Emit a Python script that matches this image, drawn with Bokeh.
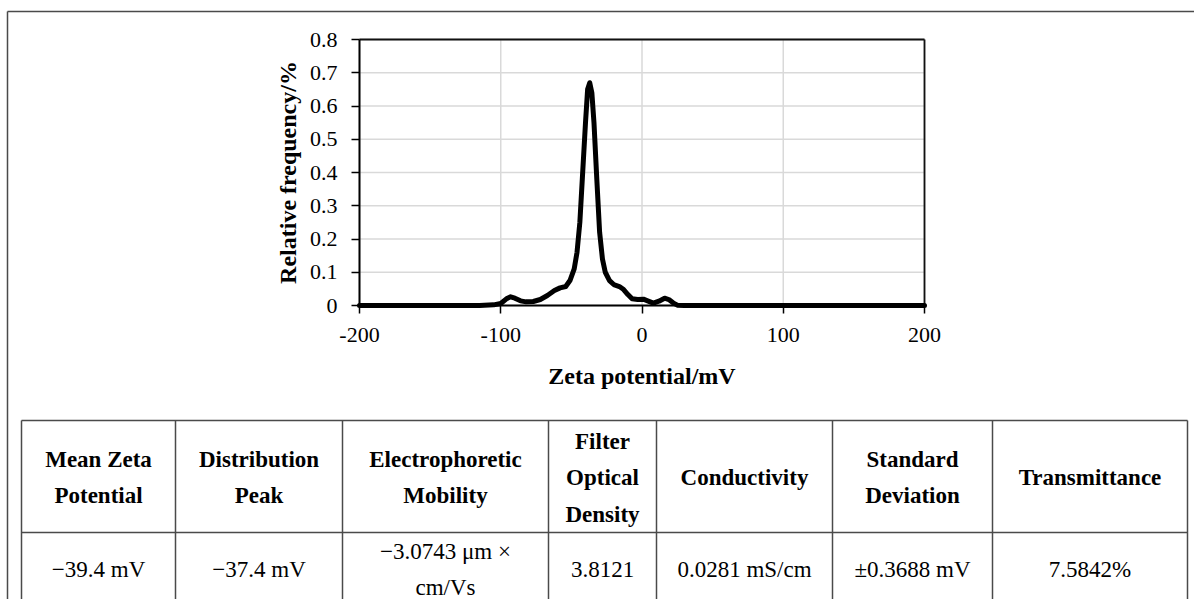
from bokeh.plotting import figure
from bokeh.models import Range1d, FixedTicker, LinearAxis, Label, NumeralTickFormatter
from bokeh.embed import file_html
from bokeh.resources import INLINE

# ---------------- data ----------------
zeta = [-200, -115, -105, -100, -96, -93, -90, -86, -82, -77, -72, -67, -62, -58, -54,
        -51, -48, -46, -44, -42, -40, -38.5, -37, -35.5, -34, -32, -30, -28, -26, -23,
        -20, -16, -13, -10, -7, -3, 1, 4, 8, 12, 16, 19, 22, 25, 30, 200]
freq = [0, 0, 0.002, 0.006, 0.02, 0.026, 0.022, 0.014, 0.011, 0.012, 0.018, 0.03, 0.045, 0.053, 0.057,
        0.075, 0.11, 0.16, 0.25, 0.4, 0.55, 0.65, 0.67, 0.64, 0.55, 0.38, 0.22, 0.14, 0.1, 0.075,
        0.063, 0.057, 0.048, 0.033, 0.02, 0.018, 0.019, 0.014, 0.007, 0.013, 0.022, 0.018, 0.008, 0.001, 0, 0]

x_ticks = [-200, -100, 0, 100, 200]
x_tick_labels = ["-200", "-100", "0", "100", "200"]
y_ticks = [0, 0.1, 0.2, 0.3, 0.4, 0.5, 0.6, 0.7, 0.8]
y_tick_labels = ["0", "0.1", "0.2", "0.3", "0.4", "0.5", "0.6", "0.7", "0.8"]
x_title = "Zeta potential/mV"
y_title = "Relative frequency/%"

table_headers = [["Mean Zeta", "Potential"],
                 ["Distribution", "Peak"],
                 ["Electrophoretic", "Mobility"],
                 ["Filter", "Optical", "Density"],
                 ["Conductivity"],
                 ["Standard", "Deviation"],
                 ["Transmittance"]]
table_values = [["\u221239.4 mV"],
                ["\u221237.4 mV"],
                ["\u22123.0743 \u03bcm \u00d7", "cm/Vs"],
                ["3.8121"],
                ["0.0281 mS/cm"],
                ["\u00b10.3688 mV"],
                ["7.5842%"]]

# ---------------- layout / style ----------------
W, H = 1194, 599
FL, FR, FT, FB = 359, 924, 39, 305          # chart area in page pixels
XR = (x_ticks[0], x_ticks[-1])
YR = (y_ticks[0], y_ticks[-1])
FONT = "Liberation Serif"
col_edges = [21, 175, 342, 548, 656, 832, 992, 1187]
tbl_top, tbl_head_bot, tbl_bot = 420, 532, 620
head_mid, body_mid = 477, 569
head_gap, body_gap = 36.5, 36
border_x, border_y = 7, 11

sx = (FR - FL) / (XR[1] - XR[0])
sy = (FB - FT) / (YR[1] - YR[0])
x_range = Range1d(XR[0] - FL / sx, XR[1] + (W - FR) / sx)
y_range = Range1d(YR[0] - (H - FB) / sy, YR[1] + FT / sy)

p = figure(width=W, height=H, output_backend="svg", toolbar_location=None,
           x_range=x_range, y_range=y_range,
           x_axis_location=None, y_axis_location=None,
           min_border=0)
p.extra_x_ranges = {"px": Range1d(0, W)}
p.extra_y_ranges = {"py": Range1d(H, 0)}
p.background_fill_color = "white"
p.border_fill_color = "white"
p.outline_line_color = None
p.xgrid.visible = False
p.ygrid.visible = False

# grid lines (drawn only within the chart area)
p.segment(x0=x_ticks, y0=[YR[0]] * len(x_ticks), x1=x_ticks, y1=[YR[1]] * len(x_ticks),
          line_color="#d9d9d9", line_width=1.5)
p.segment(x0=[XR[0]] * len(y_ticks), y0=y_ticks, x1=[XR[1]] * len(y_ticks), y1=y_ticks,
          line_color="#d9d9d9", line_width=1.5)
# top and right frame lines of the chart
p.segment(x0=[XR[0], XR[1]], y0=[YR[1], YR[0]], x1=[XR[1], XR[1]], y1=[YR[1], YR[1]],
          line_color="#111111", line_width=1.8)

xaxis = LinearAxis(fixed_location=YR[0], bounds=XR, ticker=FixedTicker(ticks=x_ticks),
                   major_label_overrides=dict(zip(x_ticks, x_tick_labels)))
yaxis = LinearAxis(fixed_location=XR[0], bounds=YR, ticker=FixedTicker(ticks=y_ticks),
                   major_label_overrides=dict(zip(y_ticks, y_tick_labels)))
for ax in (xaxis, yaxis):
    ax.formatter = NumeralTickFormatter(format="0.[0]")
    ax.axis_line_color = "black"
    ax.axis_line_width = 2
    ax.major_tick_line_color = "black"
    ax.major_tick_line_width = 1.5
    ax.major_tick_in = 0
    ax.major_tick_out = 8
    ax.minor_tick_line_color = None
    ax.major_label_text_font = FONT
    ax.major_label_text_font_size = "22px"
    ax.major_label_text_color = "black"
    ax.axis_label_text_font = FONT
    ax.axis_label_text_font_size = "24px"
    ax.axis_label_text_font_style = "bold"
    ax.axis_label_text_color = "black"
xaxis.axis_label = x_title
xaxis.major_label_standoff = 14
xaxis.axis_label_standoff = 18
yaxis.axis_label = y_title
yaxis.major_label_standoff = 14
yaxis.axis_label_standoff = 6
p.add_layout(xaxis, "below")
p.add_layout(yaxis, "left")

p.line(zeta, freq, line_color="black", line_width=5, line_join="round", line_cap="round")

# ---------------- outer border and table lines (page pixels) ----------------
x0s, y0s, x1s, y1s = [], [], [], []
x0s += [border_x, border_x]; y0s += [border_y, border_y]; x1s += [W + 10, border_x]; y1s += [border_y, H + 20]
for yy in (tbl_top, tbl_head_bot):
    x0s.append(col_edges[0]); x1s.append(col_edges[-1]); y0s.append(yy); y1s.append(yy)
for xx in col_edges:
    x0s.append(xx); x1s.append(xx); y0s.append(tbl_top); y1s.append(tbl_bot)
p.segment(x0=x0s, y0=y0s, x1=x1s, y1=y1s, line_color="#4a4a4a", line_width=1.5,
          x_range_name="px", y_range_name="py")

# ---------------- table text ----------------
def add_lines(lines, cx, mid, gap, bold):
    n = len(lines)
    for i, t in enumerate(lines):
        p.add_layout(Label(x=cx, y=mid + (i - (n - 1) / 2) * gap, text=t,
                           x_range_name="px", y_range_name="py",
                           text_align="center", text_baseline="alphabetic",
                           text_font=FONT, text_font_size="23px",
                           text_font_style="bold" if bold else "normal",
                           text_color="black"))

for k in range(len(table_headers)):
    cx = (col_edges[k] + col_edges[k + 1]) / 2
    add_lines(table_headers[k], cx, head_mid, head_gap, True)
    add_lines(table_values[k], cx, body_mid, body_gap, False)

open("out.html", "w").write(file_html(p, INLINE))
